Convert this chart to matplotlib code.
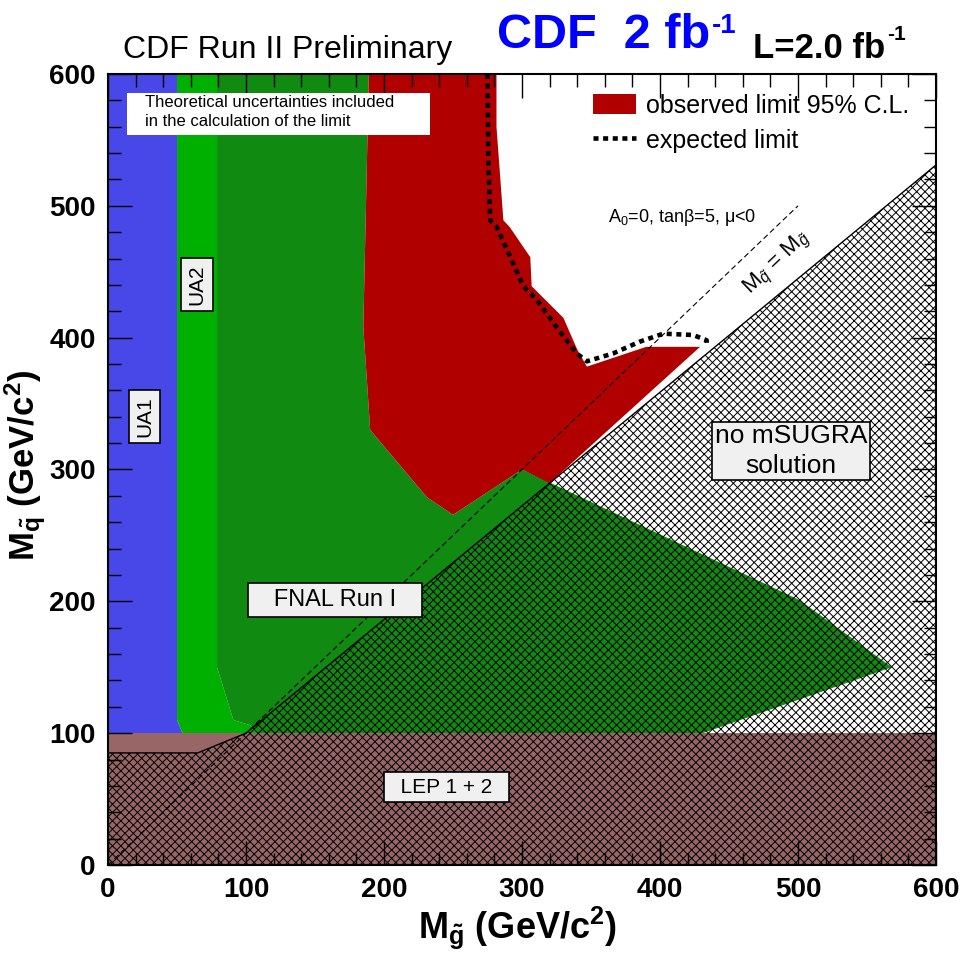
import matplotlib.pyplot as plt
from matplotlib.ticker import MultipleLocator
from matplotlib.patches import Rectangle

plt.rcParams['font.family'] = ['Liberation Sans', 'DejaVu Sans']
plt.rcParams['mathtext.fontset'] = 'custom'
plt.rcParams['mathtext.rm'] = 'Liberation Sans'
plt.rcParams['mathtext.it'] = 'Liberation Sans:italic'
plt.rcParams['mathtext.bf'] = 'Liberation Sans:bold'
plt.rcParams['hatch.linewidth'] = 0.7

# excluded regions, vertices as (gluino mass, squark mass) in GeV/c^2
ua1_x = [0, 0, 50, 50, 54]
ua1_y = [100, 600, 600, 110, 100]

ua2_x = [50, 79, 79, 90.8, 103, 110, 54, 50]
ua2_y = [600, 600, 150, 110, 106, 100, 100, 110]

fnal_x = [79, 189, 185, 190, 231, 250, 300, 501, 568, 431, 110, 103, 90.8, 79]
fnal_y = [600, 600, 408, 330, 279, 265.6, 300, 201, 150, 100, 100, 106, 110, 150]

obs_x = [189, 281.5, 281.5, 286.5, 291, 306, 307, 330, 340, 347, 390, 429,
         320, 300, 250, 231, 190, 185]
obs_y = [600, 600, 560, 489, 484, 461, 439, 415, 391, 378, 393, 393,
         289.6, 300, 265.6, 279, 330, 408]

exp_x = [275, 275.6, 277, 281.6, 301, 310.6, 325, 339.6, 347, 366, 385.5,
         402.4, 424, 433.8, 433.8]
exp_y = [600, 535, 489, 484, 439, 428.7, 408, 388, 382, 388, 397,
         403, 402, 398, 393]

lep_x = [0, 600, 600, 0]
lep_y = [0, 0, 100, 100]

nosol_x = [0, 0, 65, 100, 600, 600]
nosol_y = [0, 85, 85, 100, 531, 0]

diag_x = [0, 500]
diag_y = [0, 500]

fig = plt.figure(figsize=(9.61, 9.58), dpi=100)
ax = fig.add_axes([0.1124, 0.0971, 0.8616, 0.8257])

ax.fill(ua1_x, ua1_y, color='#4848e8', lw=0, zorder=1)
ax.fill(ua2_x, ua2_y, color='#00b000', lw=0, zorder=1)
ax.fill(fnal_x, fnal_y, color='#108a10', lw=0, zorder=1)
obs = ax.fill(obs_x, obs_y, color='#b00000', lw=0, zorder=1.5,
              label='observed limit 95% C.L.')[0]
ax.fill(lep_x, lep_y, color='#986666', lw=0, zorder=1)
ax.fill(nosol_x, nosol_y, facecolor='none', edgecolor='black', hatch='xxxx',
        lw=1.0, zorder=2)

ax.plot(diag_x, diag_y, color='black', lw=0.8, ls=(0, (5, 3)), zorder=3)
exp, = ax.plot(exp_x, exp_y, color='black', lw=3.3, ls=(0, (1.1, 1.0)),
               zorder=3, label='expected limit')

box = dict(boxstyle='square,pad=0.3', facecolor='#f0f0f0', edgecolor='black', lw=1.2)
ax.text(26.5, 340, 'UA1', rotation=90, fontsize=15, ha='center', va='center', bbox=box, zorder=4)
ax.text(64.5, 440, 'UA2', rotation=90, fontsize=15, ha='center', va='center', bbox=box, zorder=4)
ax.text(164.5, 201, '   FNAL Run I   ', fontsize=17, ha='center', va='center',
        bbox=dict(box, boxstyle='square,pad=0.25'), zorder=4)
ax.text(245, 59, '  LEP 1 + 2  ', fontsize=15, ha='center', va='center',
        bbox=dict(box, boxstyle='square,pad=0.25'), zorder=4)
ax.text(495, 314, 'no mSUGRA\nsolution', fontsize=19, ha='center', va='center',
        linespacing=1.3, bbox=dict(box, boxstyle='square,pad=0.1'), zorder=4)

# white note box at the top left
ax.add_patch(Rectangle((13.8, 553.9), 219.5, 31.8, facecolor='white', edgecolor='none', zorder=4))
ax.text(26.8, 571, 'Theoretical uncertainties included\nin the calculation of the limit',
        fontsize=12, ha='left', va='center', linespacing=1.3, zorder=5)

ax.text(416, 491, r'A$_0$=0, tanβ=5, μ<0', fontsize=13, ha='center', va='center', zorder=4)
ax.text(485, 456, r'M$_{\tilde{q}}$ = M$_{\tilde{g}}$', fontsize=16, rotation=43.7,
        ha='center', va='center', rotation_mode='anchor', zorder=4)

ax.legend(handles=[obs, exp], loc='upper left', bbox_to_anchor=(0.586, 0.975),
          frameon=False, fontsize=18, borderpad=0, borderaxespad=0,
          handlelength=1.7, handleheight=0.9, handletextpad=0.4, labelspacing=0.45)

ax.set_xlim(0, 600)
ax.set_ylim(0, 600)
ax.xaxis.set_major_locator(MultipleLocator(100))
ax.yaxis.set_major_locator(MultipleLocator(100))
ax.xaxis.set_minor_locator(MultipleLocator(20))
ax.yaxis.set_minor_locator(MultipleLocator(20))
ax.tick_params(which='both', direction='in', top=True, right=True, width=1.0)
ax.tick_params(which='major', length=17, labelsize=20, pad=9)
ax.tick_params(which='minor', length=9)
for lab in ax.get_xticklabels() + ax.get_yticklabels():
    lab.set_fontweight('bold')
for sp in ax.spines.values():
    sp.set_linewidth(1.5)

ax.set_xlabel(r'$\mathbf{M_{\tilde{g}}}$ (GeV/c$^{\mathbf{2}}$)', fontsize=26, fontweight='bold')
ax.set_ylabel(r'$\mathbf{M_{\tilde{q}}}$ (GeV/c$^{\mathbf{2}}$)', fontsize=25, fontweight='bold')
ax.xaxis.set_label_coords(0.494, -0.05)
ax.yaxis.set_label_coords(-0.072, 0.505)

fig.text(0.128, 0.9395, 'CDF Run II Preliminary', fontsize=23, va='baseline', ha='left')
t_blue = fig.text(0.517, 0.95, 'CDF  2 fb', fontsize=35, fontweight='bold',
                  color='#0000ff', va='baseline', ha='left')
t_lum = fig.text(0.7836, 0.939, 'L=2.0 fb', fontsize=25, fontweight='bold',
                 va='baseline', ha='left')

# superscripts placed right after the main text
fig.canvas.draw()
W = fig.bbox.width
x_blue = t_blue.get_window_extent().x1 / W
x_lum = t_lum.get_window_extent().x1 / W
fig.text(x_blue + 0.002, 0.9655, '-1', fontsize=20, fontweight='bold',
         color='#0000ff', va='baseline', ha='left')
fig.text(x_lum + 0.002, 0.958, '-1', fontsize=15, fontweight='bold',
         va='baseline', ha='left')

fig.savefig('out.png', dpi=100)
